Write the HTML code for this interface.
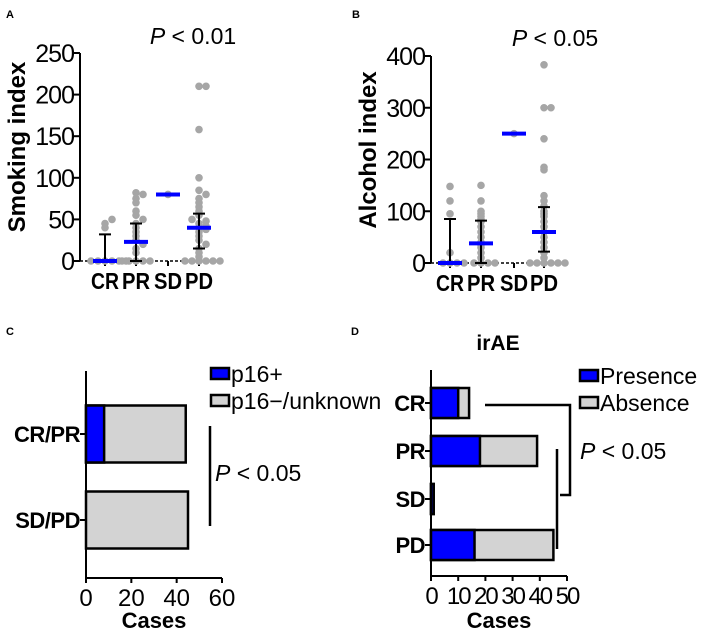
<!DOCTYPE html>
<html><head><meta charset="utf-8"><style>
body{margin:0;background:#fff;font-family:"Liberation Sans",Arial,sans-serif}
svg text{font-family:"Liberation Sans",Arial,sans-serif}
</style></head><body>
<svg id="c" width="708" height="632" viewBox="0 0 708 632" xmlns="http://www.w3.org/2000/svg"></svg>
<script>
// Panel A data
const catsA = ["CR","PR","SD","PD"];
const ptsA = [[0,0,0,0,0,0,40,45,50],[0,0,0,0,0,10,15,20,25,30,35,40,45,50,55,60,70,75,80,82],[80],[0,0,0,0,0,0,5,10,15,20,25,30,35,38,40,42,45,48,50,55,60,65,70,75,80,85,100,158,210,210]];
const medA = [0,23,80,40];
const errLoA = [0,0,null,15];
const errHiA = [32,45,null,57];
const ticksA = [0,50,100,150,200,250];
// Panel B data
const ptsB = [[0,0,0,0,20,95,120,148],[0,0,0,0,10,20,30,35,40,50,60,70,80,85,90,95,100,120,150],[250],[0,0,0,0,0,0,10,20,30,40,50,60,70,80,90,95,100,110,120,130,180,185,240,300,300,383]];
const medB = [0,38,250,60];
const errLoB = [0,0,null,22];
const errHiB = [85,82,null,108];
const ticksB = [0,100,200,300,400];
// Panel C data
const catsC = ["CR/PR","SD/PD"];
const posC = [8,0];
const negC = [44,45];
const ticksC = [0,20,40,60];
// Panel D data
const catsD = ["CR","PR","SD","PD"];
const presD = [10,18,1,16];
const absD = [14,39,1,45];
const ticksD = [0,10,20,30,40,50];

const S=document.getElementById('c');const NS="http://www.w3.org/2000/svg";
function mk(t,a,txt){const e=document.createElementNS(NS,t);for(const k in a)e.setAttribute(k,a[k]);if(txt!==undefined)e.textContent=txt;S.appendChild(e);return e;}

function scatterPanel(p){
  const y=v=>p.y0-(v/p.max)*(p.y0-p.y1);
  const x=i=>p.xs[i];
  let e;
  e=mk('text',{x:p.lx,y:18,'font-size':11,'font-weight':'bold'},p.letter);
  
  e=mk('line',{x1:p.ax,y1:p.y1,x2:p.ax,y2:p.y0,stroke:'#000','stroke-width':2});
  
  e=mk('line',{x1:p.ax,y1:p.y0,x2:p.xend,y2:p.y0,stroke:'#000','stroke-width':1.5,'stroke-dasharray':'3,2'});
  
  p.ticks.forEach(t=>{
    e=mk('line',{x1:p.ax-6,y1:y(t),x2:p.ax,y2:y(t),stroke:'#000','stroke-width':2});
    
    e=mk('text',{x:p.ax-6,y:y(t)+9,'font-size':25,'text-anchor':'end','letter-spacing':-1},t);
    
  });
  catsA.forEach((c,i)=>{
    e=mk('line',{x1:x(i),y1:p.y0,x2:x(i),y2:p.y0+5,stroke:'#000','stroke-width':2});
    
    e=mk('text',{x:x(i),y:p.y0+28,'font-size':23,'font-weight':'bold','text-anchor':'middle',textLength:28,lengthAdjust:'spacingAndGlyphs'},c);
    
  });
  p.pts.forEach((arr,i)=>{
    const cnt={};
    arr.forEach(v=>{const k=Math.round(v/6);cnt[k]=(cnt[k]||0)+1;const n=cnt[k]-1;const off=(n%2?1:-1)*Math.ceil(n/2)*7;
      e=mk('circle',{cx:x(i)+off,cy:y(v),r:3.8,fill:'#a6a6a6'});
      });
  });
  p.lo.forEach((lo,i)=>{if(lo===null)return;const hi=p.hi[i];
    e=mk('path',{d:`M${x(i)} ${y(lo)}V${y(hi)}M${x(i)-6} ${y(lo)}h12M${x(i)-6} ${y(hi)}h12`,stroke:'#000','stroke-width':2,fill:'none'});
    });
  p.med.forEach((m,i)=>{
    e=mk('line',{x1:x(i)-12,y1:y(m),x2:x(i)+12,y2:y(m),stroke:'#0000ff','stroke-width':4});
    });
  e=mk('text',{x:p.tx,y:p.ty,'font-size':23,'text-anchor':'middle'});
  e.innerHTML='<tspan font-style="italic">P</tspan> &lt; '+p.ptxt;
  
  e=mk('text',{x:0,y:0,'font-size':24,'font-weight':'bold','text-anchor':'middle',transform:`translate(${p.ytx},${p.yty}) rotate(-90)`},p.ytitle);
  
}
scatterPanel({letter:'A',lx:6,ax:80,y0:261,y1:53,max:250,xs:[105,136,168,199],xend:222,ticks:ticksA,pts:ptsA,med:medA,lo:errLoA,hi:errHiA,tx:193,ty:44,ptxt:'0.01',ytitle:'Smoking index',ytx:25,yty:147});
scatterPanel({letter:'B',lx:352,ax:431,y0:263,y1:56,max:400,xs:[450,481,514,544],xend:567,ticks:ticksB,pts:ptsB,med:medB,lo:errLoB,hi:errHiB,tx:555,ty:46,ptxt:'0.05',ytitle:'Alcohol index',ytx:376,yty:150});

function barPanel(p){
  const x=v=>p.ax+v/p.max*p.w;let e;
  e=mk('text',{x:p.lx,y:335,'font-size':11,'font-weight':'bold'},p.letter);
  
  e=mk('path',{d:`M${p.ax} ${p.yt}V${p.yb}H${p.ax+p.w}`,stroke:'#000','stroke-width':2,fill:'none'});
  
  p.ticks.forEach(t=>{
    e=mk('line',{x1:x(t),y1:p.yb,x2:x(t),y2:p.yb+5,stroke:'#000','stroke-width':2});
    
    e=mk('text',{x:x(t),y:p.yb+28,'font-size':24,'text-anchor':'middle','letter-spacing':p.ls||0},t);
    
  });
  e=mk('text',{x:p.ax+p.w/2,y:628,'font-size':22,'font-weight':'bold','text-anchor':'middle'},'Cases');
  
  p.cats.forEach((c,i)=>{
    const yc=p.ys[i],h=p.bh;
    e=mk('line',{x1:p.ax-6,y1:yc,x2:p.ax,y2:yc,stroke:'#000','stroke-width':2});
    
    e=mk('text',{x:p.ax-6,y:yc+8,'font-size':22,'font-weight':'bold','text-anchor':'end','letter-spacing':-0.5},c);
    
    e=mk('rect',{x:x(0),y:yc-h/2,width:x(p.b[i])-x(0),height:h,fill:'#d3d3d3',stroke:'#000','stroke-width':2.5});
    
    if(p.a[i]>0){e=mk('rect',{x:x(0),y:yc-h/2,width:x(p.a[i])-x(0),height:h,fill:'#0000ff',stroke:'#000','stroke-width':2.5});
    }
  });
  p.leg.forEach((l,i)=>{
    e=mk('rect',{x:p.legx,y:p.legy+i*27-6,width:18,height:11,fill:i?'#d3d3d3':'#0000ff',stroke:'#000','stroke-width':2.5});
    
    e=mk('text',{x:p.legx+20,y:p.legy+i*27+8,'font-size':23},l);
    
  });
}
barPanel({letter:'C',lx:6,ax:86,w:136,max:60,yt:371,yb:578,cats:catsC,ys:[434,520],bh:57,a:posC,b:negC,ticks:ticksC,leg:['p16+','p16\u2212/unknown'],legx:211,legy:374,ls:0});
barPanel({letter:'D',lx:351,ax:431,w:136,max:50,yt:370,yb:576,cats:catsD,ys:[403,451,499,545],bh:30,a:presD,b:absD,ticks:ticksD,leg:['Presence','Absence'],legx:580,legy:376,ls:-2});
let e;
e=mk('text',{x:498,y:350,'font-size':21,'font-weight':'bold','text-anchor':'middle'},'irAE');

e=mk('line',{x1:210,y1:426,x2:210,y2:526,stroke:'#000','stroke-width':2.5});

e=mk('text',{x:215,y:481,'font-size':23});e.innerHTML='<tspan font-style="italic">P</tspan> &lt; 0.05';

e=mk('path',{d:'M485 405H570V495H560M557 449V549',stroke:'#000','stroke-width':2.5,fill:'none'});

e=mk('text',{x:580,y:459,'font-size':23});e.innerHTML='<tspan font-style="italic">P</tspan> &lt; 0.05';

</script>
</body></html>
